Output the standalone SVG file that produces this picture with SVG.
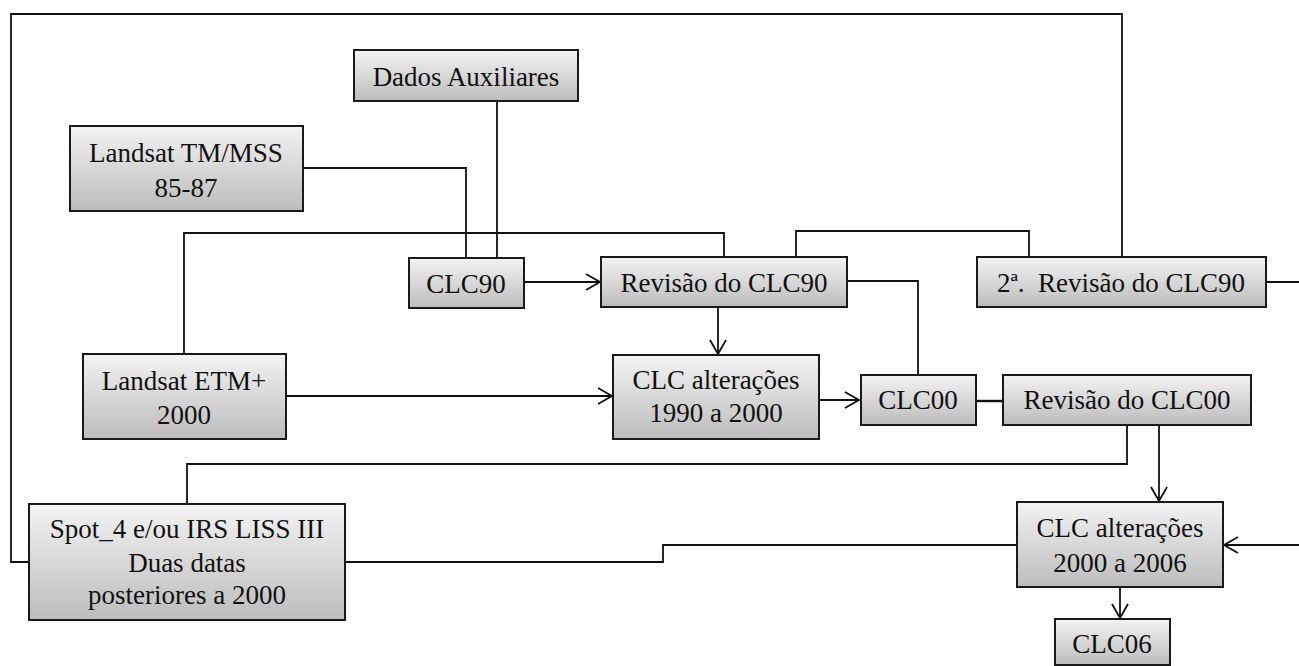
<svg xmlns="http://www.w3.org/2000/svg" width="1299" height="666" viewBox="0 0 1299 666" font-family="'Liberation Serif', Tinos, 'Times New Roman', Times, serif">
<defs>
<linearGradient id="g" x1="0" y1="0" x2="0" y2="1">
<stop offset="0" stop-color="#f3f3f3"/>
<stop offset="1" stop-color="#bcbcbc"/>
</linearGradient>
<marker id="a" viewBox="-16 -9 18 18" refX="0" refY="0" markerWidth="18" markerHeight="18" markerUnits="userSpaceOnUse" orient="auto">
<path d="M-14,-8 L0,0 L-14,8" fill="none" stroke="#111" stroke-width="1.8"/>
</marker>
<style>
.b{fill:url(#g);stroke:#1a1a1a;stroke-width:2}
.t{font-size:27px;fill:#111;text-anchor:middle}
.c{fill:none;stroke:#111;stroke-width:1.8}
.ar{marker-end:url(#a)}
</style>
</defs>
<g id="connectors">
<path class="c" d="M29,562 H11 V14 H1122 V257"/>
<path class="c" d="M497,101 V258"/>
<path class="c" d="M303,168 H466 V258"/>
<path class="c" d="M184,354 V233 H724 V257"/>
<path class="c" d="M796,257 V231 H1029 V257"/>
<path class="c ar" d="M524,282 H600"/>
<path class="c" d="M847,281 H918 V375"/>
<path class="c ar" d="M718,307 V354"/>
<path class="c ar" d="M286,396 H612"/>
<path class="c ar" d="M819,400 H859"/>
<path class="c" d="M976,401 H1003" style="stroke-width:2.4"/>
<path class="c" d="M1266,282 H1299"/>
<path class="c" d="M1127,425 V464 H187 V504"/>
<path class="c ar" d="M1159,425 V501"/>
<path class="c" d="M345,562 H663 V545 H1017"/>
<path class="c ar" d="M1299,545 H1224"/>
<path class="c ar" d="M1120,587 V618"/>
</g>
<g id="dados"><rect class="b" x="354" y="50" width="224" height="51"/><text class="t" x="466" y="86">Dados Auxiliares</text></g>
<g id="landsat-tm"><rect class="b" x="70" y="126" width="233" height="85"/><text class="t" x="186" y="162">Landsat TM/MSS</text><text class="t" x="186" y="197">85-87</text></g>
<g id="clc90"><rect class="b" x="409" y="258" width="115" height="50"/><text class="t" x="466" y="293">CLC90</text></g>
<g id="revisao-clc90"><rect class="b" x="601" y="257" width="246" height="50"/><text class="t" x="724" y="292">Revisão do CLC90</text></g>
<g id="revisao2-clc90"><rect class="b" x="977" y="257" width="289" height="50"/><text class="t" x="1121" y="292" xml:space="preserve">2ª.  Revisão do CLC90</text></g>
<g id="landsat-etm"><rect class="b" x="83" y="354" width="203" height="85"/><text class="t" x="184" y="390">Landsat ETM+</text><text class="t" x="184" y="424">2000</text></g>
<g id="clc-alt-1990"><rect class="b" x="613" y="355" width="206" height="84"/><text class="t" x="716" y="389">CLC alterações</text><text class="t" x="716" y="422">1990 a 2000</text></g>
<g id="clc00"><rect class="b" x="861" y="375" width="115" height="50"/><text class="t" x="918" y="409">CLC00</text></g>
<g id="revisao-clc00"><rect class="b" x="1003" y="375" width="248" height="50"/><text class="t" x="1127" y="409">Revisão do CLC00</text></g>
<g id="spot"><rect class="b" x="29" y="504" width="316" height="116"/><text class="t" x="187" y="538">Spot_4 e/ou IRS LISS III</text><text class="t" x="187" y="572">Duas datas</text><text class="t" x="187" y="604">posteriores a 2000</text></g>
<g id="clc-alt-2000"><rect class="b" x="1017" y="502" width="206" height="85"/><text class="t" x="1120" y="537">CLC alterações</text><text class="t" x="1120" y="572">2000 a 2006</text></g>
<g id="clc06"><rect class="b" x="1055" y="619" width="115" height="46"/><text class="t" x="1112" y="653">CLC06</text></g>
</svg>
